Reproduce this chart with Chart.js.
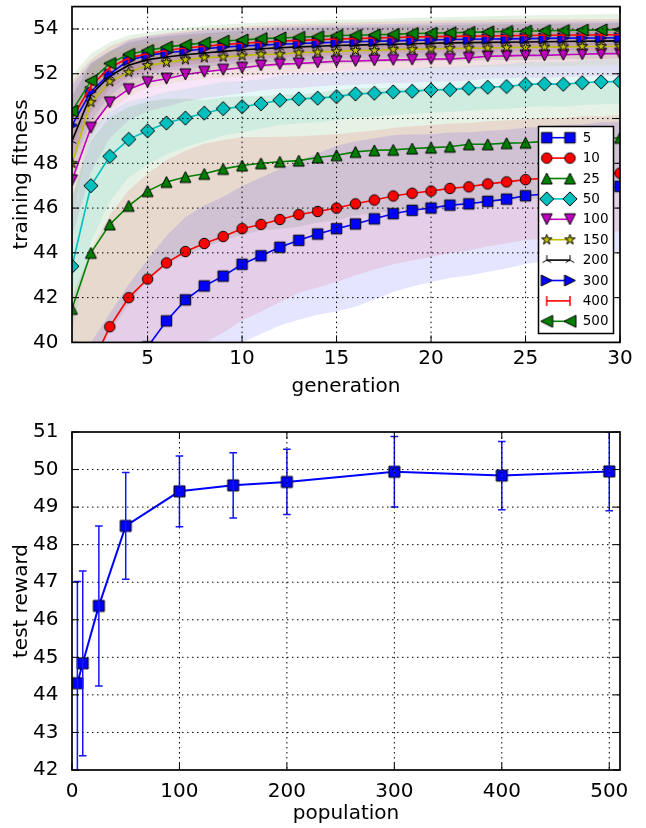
<!DOCTYPE html>
<html><head><meta charset="utf-8">
<script src="https://cdn.jsdelivr.net/npm/chart.js@4.4.1/dist/chart.umd.min.js"></script>
<style>
html,body{margin:0;padding:0;background:#fff;width:646px;height:828px;overflow:hidden;}
.w{position:absolute;left:0;}
</style></head><body>
<div class="w" style="top:0"><canvas id="c1" width="646" height="400"></canvas></div>
<div class="w" style="top:400px"><canvas id="c2" width="646" height="428"></canvas></div>
<script>
// ---------- DATA ----------
const generations = [1,2,3,4,5,6,7,8,9,10,11,12,13,14,15,16,17,18,19,20,21,22,23,24,25,26,27,28,29,30];
const popSizes = ['5','10','25','50','100','150','200','300','400','500'];

const fit5   = [34.0,35.6,37.0,38.5,39.8,40.96,41.9,42.52,42.96,43.49,43.87,44.25,44.56,44.84,45.08,45.29,45.52,45.75,45.9,46.0,46.13,46.19,46.3,46.4,46.55,46.63,46.72,46.8,46.88,46.97];
const fit10  = [36.5,38.9,40.7,42.0,42.83,43.55,44.06,44.42,44.73,45.08,45.27,45.49,45.71,45.85,46.0,46.19,46.36,46.54,46.66,46.76,46.88,46.95,47.08,47.17,47.27,47.33,47.39,47.45,47.5,47.56];
const fit25  = [41.5,44.0,45.27,46.1,46.76,47.17,47.39,47.53,47.75,47.9,48.0,48.07,48.12,48.26,48.36,48.51,48.58,48.6,48.66,48.7,48.74,48.85,48.85,48.9,48.92,48.98,49.02,49.06,49.1,49.14];
const fit50  = [43.4,47.0,48.31,49.07,49.45,49.8,50.02,50.24,50.44,50.53,50.66,50.82,50.88,50.91,50.98,51.1,51.13,51.19,51.22,51.28,51.29,51.35,51.4,51.43,51.52,51.55,51.53,51.6,51.64,51.65];
const fit100 = [47.24,49.59,50.72,51.31,51.63,51.78,51.97,52.09,52.18,52.27,52.37,52.43,52.46,52.51,52.56,52.57,52.6,52.62,52.63,52.66,52.66,52.71,52.78,52.8,52.82,52.82,52.85,52.87,52.9,52.9];
const fit150 = [48.0,50.73,51.65,52.07,52.37,52.51,52.63,52.72,52.75,52.8,52.87,52.87,52.94,52.97,53.0,53.04,53.04,53.09,53.09,53.12,53.13,53.14,53.15,53.17,53.18,53.19,53.2,53.22,53.22,53.23];
const fit200 = [49.0,51.06,51.9,52.38,52.63,52.75,52.85,52.93,53.0,53.07,53.12,53.16,53.2,53.23,53.26,53.28,53.3,53.32,53.34,53.36,53.38,53.39,53.4,53.41,53.42,53.43,53.44,53.45,53.46,53.47];
const fit300 = [49.7,51.2,52.0,52.6,52.82,52.94,53.02,53.12,53.19,53.24,53.28,53.32,53.35,53.38,53.41,53.43,53.45,53.47,53.49,53.51,53.53,53.54,53.55,53.56,53.57,53.58,53.59,53.6,53.6,53.61];
const fit400 = [50.0,51.45,52.28,52.7,52.9,53.04,53.15,53.23,53.3,53.36,53.41,53.45,53.49,53.52,53.55,53.57,53.6,53.62,53.64,53.66,53.67,53.68,53.69,53.7,53.71,53.72,53.72,53.73,53.73,53.74];
const fit500 = [50.33,51.69,52.46,52.87,53.04,53.19,53.29,53.38,53.46,53.51,53.57,53.6,53.63,53.66,53.71,53.72,53.74,53.76,53.8,53.81,53.83,53.85,53.87,53.89,53.9,53.92,53.93,53.95,53.96,53.97];

const sd5   = [4.5,4.4,4.3,4.1,3.9,3.8,3.7,3.6,3.55,3.5,3.5,3.5,3.55,3.6,3.7,3.7,3.6,3.5,3.4,3.3,3.25,3.2,3.15,3.1,3.05,3.0,3.0,2.95,2.95,2.9];
const sd10  = [5.5,5.2,5.0,4.8,4.7,4.6,4.5,4.45,4.3,4.1,3.9,3.7,3.5,3.4,3.3,3.2,3.1,3.05,3.0,2.95,2.9,2.85,2.8,2.75,2.7,2.7,2.65,2.65,2.6,2.6];
const sd25  = [5.0,5.0,4.8,4.4,4.0,3.7,3.5,3.3,3.2,3.1,3.0,3.0,2.95,2.9,2.9,2.85,2.8,2.75,2.7,2.7,2.65,2.6,2.6,2.55,2.55,2.5,2.5,2.5,2.5,2.5];
const sd50  = [3.0,2.5,2.0,1.7,1.5,1.4,1.3,1.25,1.2,1.15,1.1,1.1,1.1,1.08,1.06,1.05,1.04,1.03,1.02,1.01,1.0,1.0,1.0,1.0,1.0,1.0,1.0,1.0,1.0,1.0];
const sd100 = [2.5,2.0,1.6,1.4,1.3,1.25,1.2,1.18,1.16,1.14,1.12,1.1,1.1,1.08,1.07,1.06,1.05,1.04,1.03,1.02,1.02,1.01,1.0,1.0,1.0,1.0,1.0,1.0,1.0,1.0];
const sd150 = [2.2,1.6,1.3,1.1,1.0,0.98,0.96,0.94,0.93,0.92,0.91,0.9,0.9,0.89,0.88,0.88,0.87,0.87,0.86,0.86,0.86,0.85,0.85,0.85,0.85,0.85,0.85,0.85,0.85,0.85];
const sd200 = [2.0,1.4,1.1,1.0,0.95,0.92,0.9,0.88,0.86,0.85,0.84,0.83,0.82,0.82,0.81,0.81,0.8,0.8,0.8,0.8,0.8,0.8,0.8,0.8,0.8,0.8,0.8,0.8,0.8,0.8];
const sd300 = [1.8,1.3,1.0,0.9,0.85,0.83,0.82,0.81,0.8,0.79,0.78,0.78,0.77,0.77,0.76,0.76,0.76,0.75,0.75,0.75,0.75,0.75,0.75,0.75,0.75,0.75,0.75,0.75,0.75,0.75];
const sd400 = [1.7,1.2,0.95,0.85,0.8,0.78,0.77,0.76,0.75,0.75,0.74,0.74,0.73,0.73,0.73,0.72,0.72,0.72,0.72,0.72,0.72,0.72,0.72,0.72,0.72,0.72,0.72,0.72,0.72,0.72];
const sd500 = [1.6,1.2,0.95,0.85,0.8,0.78,0.76,0.75,0.74,0.73,0.72,0.72,0.71,0.71,0.7,0.7,0.7,0.7,0.7,0.7,0.7,0.7,0.7,0.7,0.7,0.7,0.7,0.7,0.7,0.7];

const topXTicks = [5,10,15,20,25,30];
const topYTicks = [40,42,44,46,48,50,52,54];

const population = [5,10,25,50,100,150,200,300,400,500];
const testReward = [44.31,44.84,46.37,48.5,49.42,49.58,49.67,49.94,49.84,49.95];
const testErr    = [2.71,2.46,2.13,1.42,0.94,0.87,0.87,0.94,0.91,1.05];
const botXTicks = [0,100,200,300,400,500];
const botYTicks = [42,43,44,45,46,47,48,49,50,51];

// ---------- STYLE ----------
const FONT = 'DejaVu Sans';
function makeMarker(kind, fill, size){
  const pad = 3, s = Math.ceil(size + 2*pad);
  const c = document.createElement('canvas'); c.width = s; c.height = s;
  const g = c.getContext('2d'); const m = s/2, h = size/2;
  g.lineWidth = 1; g.strokeStyle = '#000'; g.fillStyle = fill; g.lineJoin = 'miter';
  g.beginPath();
  let doFill = true;
  if (kind === 'square') g.rect(m-h, m-h, size, size);
  else if (kind === 'circle') g.arc(m, m, h, 0, Math.PI*2);
  else if (kind === 'up') { g.moveTo(m, m-h); g.lineTo(m+h, m+h); g.lineTo(m-h, m+h); g.closePath(); }
  else if (kind === 'down') { g.moveTo(m, m+h); g.lineTo(m+h, m-h); g.lineTo(m-h, m-h); g.closePath(); }
  else if (kind === 'left') { g.moveTo(m-h, m); g.lineTo(m+h, m-h); g.lineTo(m+h, m+h); g.closePath(); }
  else if (kind === 'right') { g.moveTo(m+h, m); g.lineTo(m-h, m-h); g.lineTo(m-h, m+h); g.closePath(); }
  else if (kind === 'diamond') { const d = h*1.414; g.moveTo(m, m-d); g.lineTo(m+d, m); g.lineTo(m, m+d); g.lineTo(m-d, m); g.closePath(); }
  else if (kind === 'star') {
    const ri = h*0.382;
    for (let i=0;i<10;i++){ const r = i%2? ri : h; const a = -Math.PI/2 + i*Math.PI/5;
      const px = m + r*Math.cos(a), py = m + r*Math.sin(a); if(i===0) g.moveTo(px,py); else g.lineTo(px,py); }
    g.closePath();
  }
  else if (kind === 'tri') { doFill = false; g.moveTo(m, m); g.lineTo(m, m-h); g.moveTo(m, m); g.lineTo(m-h*0.87, m+h*0.5); g.moveTo(m,m); g.lineTo(m+h*0.87, m+h*0.5); }
  else if (kind === 'vline') { doFill = false; g.strokeStyle = fill; g.lineWidth = 1.5; g.moveTo(m, m-h); g.lineTo(m, m+h); }
  if (doFill) g.fill();
  g.stroke();
  return c;
}
const seriesStyle = [
  {color:[0,0,255],   marker:'square',  size:10.5},
  {color:[255,0,0],   marker:'circle',  size:10.5},
  {color:[0,128,0],   marker:'up',      size:11},
  {color:[0,191,191], marker:'diamond', size:10},
  {color:[191,0,191], marker:'down',    size:11},
  {color:[191,191,0], marker:'star',    size:11},
  {color:[0,0,0],     marker:'tri',     size:10},
  {color:[0,0,255],   marker:'right',   size:11},
  {color:[255,0,0],   marker:'vline',   size:10},
  {color:[0,128,0],   marker:'left',    size:12}
];
const means = [fit5,fit10,fit25,fit50,fit100,fit150,fit200,fit300,fit400,fit500];
const sds   = [sd5,sd10,sd25,sd50,sd100,sd150,sd200,sd300,sd400,sd500];
const rgb = (c,a) => a===undefined ? `rgb(${c[0]},${c[1]},${c[2]})` : `rgba(${c[0]},${c[1]},${c[2]},${a})`;
const markerImgs = seriesStyle.map(s => makeMarker(s.marker, rgb(s.color), s.size));

// ---------- PLUGINS ----------
function decoPlugin(){
  return {
    id: 'deco',
    afterDatasetsDraw(chart){
      const {ctx, chartArea: a} = chart; const xs = chart.scales.x, ys = chart.scales.y;
      ctx.save();
      ctx.strokeStyle = '#000'; ctx.lineWidth = 1; ctx.setLineDash([1.5, 3.5]);
      xs.ticks.forEach(t => { const p = xs.getPixelForValue(t.value);
        if (p > a.left + 2 && p < a.right - 2) { ctx.beginPath(); ctx.moveTo(p, a.top); ctx.lineTo(p, a.bottom); ctx.stroke(); } });
      ys.ticks.forEach(t => { const p = ys.getPixelForValue(t.value);
        if (p > a.top + 2 && p < a.bottom - 2) { ctx.beginPath(); ctx.moveTo(a.left, p); ctx.lineTo(a.right, p); ctx.stroke(); } });
      ctx.setLineDash([]);
      const L = 7;
      xs.ticks.forEach(t => { const p = xs.getPixelForValue(t.value);
        ctx.beginPath(); ctx.moveTo(p, a.bottom); ctx.lineTo(p, a.bottom - L); ctx.moveTo(p, a.top); ctx.lineTo(p, a.top + L); ctx.stroke(); });
      ys.ticks.forEach(t => { const p = ys.getPixelForValue(t.value);
        ctx.beginPath(); ctx.moveTo(a.left, p); ctx.lineTo(a.left + L, p); ctx.moveTo(a.right, p); ctx.lineTo(a.right - L, p); ctx.stroke(); });
      ctx.lineWidth = 1.7;
      ctx.strokeRect(a.left, a.top, a.right - a.left, a.bottom - a.top);
      ctx.restore();
    }
  };
}
const legendPlugin = {
  id: 'mplLegend',
  afterDatasetsDraw(chart){
    const ctx = chart.ctx;
    const bx = 538.5, by = 126.5, bw = 75, bh = 207;
    ctx.save();
    ctx.fillStyle = '#fff'; ctx.fillRect(bx, by, bw, bh);
    ctx.strokeStyle = '#000'; ctx.lineWidth = 1.5; ctx.strokeRect(bx, by, bw, bh);
    ctx.font = '13.5px "' + FONT + '"'; ctx.textBaseline = 'middle'; ctx.textAlign = 'left';
    popSizes.forEach((lab, i) => {
      const y = 137.7 + i*20.4, x0 = 546.7, x1 = 570;
      const st = seriesStyle[i];
      ctx.strokeStyle = rgb(st.color); ctx.lineWidth = 1.6;
      ctx.beginPath(); ctx.moveTo(x0, y); ctx.lineTo(x1, y); ctx.stroke();
      const im = markerImgs[i];
      ctx.drawImage(im, x0 - im.width/2, y - im.height/2);
      ctx.drawImage(im, x1 - im.width/2, y - im.height/2);
      ctx.fillStyle = '#000'; ctx.fillText(lab, 582.7, y + 0.5);
    });
    ctx.restore();
  }
};
const errPlugin = {
  id: 'errBars',
  afterDatasetsDraw(chart){
    const {ctx, chartArea: a} = chart; const xs = chart.scales.x, ys = chart.scales.y;
    ctx.save();
    ctx.beginPath(); ctx.rect(a.left, a.top, a.right - a.left, a.bottom - a.top); ctx.clip();
    ctx.strokeStyle = 'rgb(20,20,255)'; ctx.lineWidth = 1.5;
    population.forEach((p, i) => {
      const x = xs.getPixelForValue(p);
      const yl = ys.getPixelForValue(testReward[i] - testErr[i]);
      const yh = ys.getPixelForValue(testReward[i] + testErr[i]);
      ctx.beginPath(); ctx.moveTo(x, yl); ctx.lineTo(x, yh);
      ctx.moveTo(x - 3.8, yl); ctx.lineTo(x + 3.8, yl);
      ctx.moveTo(x - 3.8, yh); ctx.lineTo(x + 3.8, yh); ctx.stroke();
    });
    ctx.restore();
  }
};

function axisCfg(min, max, tickVals, title, isX, size, tickPad, titlePad){
  return {
    type: 'linear', min, max,
    afterBuildTicks: s => { s.ticks = tickVals.map(v => ({value: v})); },
    afterFit: s => { if (isX) s.height = size; else s.width = size;
      s.paddingTop = 0; s.paddingBottom = 0; s.paddingLeft = 0; s.paddingRight = 0; },
    grid: {display: false}, border: {display: false},
    ticks: {color: '#000', font: {family: FONT, size: 20}, padding: tickPad, maxRotation: 0, autoSkip: false,
            callback: v => String(v)},
    title: {display: true, text: title, color: '#000', font: {family: FONT, size: 20},
            padding: isX ? {top: 0, bottom: titlePad} : {top: titlePad, bottom: 0}}
  };
}

// ---------- TOP CHART ----------
const topDatasets = [];
for (let i = means.length - 1; i >= 0; i--) {
  const st = seriesStyle[i];
  topDatasets.push({
    label: popSizes[i],
    data: generations.map((g, k) => ({x: g, y: means[i][k]})),
    borderColor: rgb(st.color), borderWidth: 1.6, tension: 0, fill: false,
    pointStyle: markerImgs[i], pointRadius: 5, pointHoverRadius: 5
  });
}
for (let i = 0; i < means.length; i++) {
  const st = seriesStyle[i];
  topDatasets.push({
    label: 'band-up-' + popSizes[i],
    data: generations.map((g, k) => ({x: g, y: means[i][k] + sds[i][k]})),
    borderColor: 'rgba(0,0,0,0)', borderWidth: 1, pointRadius: 0, tension: 0,
    backgroundColor: rgb(st.color, 0.1), fill: '+1'
  });
  topDatasets.push({
    label: 'band-lo-' + popSizes[i],
    data: generations.map((g, k) => ({x: g, y: means[i][k] - sds[i][k]})),
    borderColor: 'rgba(0,0,0,0)', borderWidth: 1, pointRadius: 0, tension: 0, fill: false
  });
}

new Chart(document.getElementById('c1'), {
  type: 'line',
  data: {datasets: topDatasets},
  options: {
    responsive: false, animation: false, devicePixelRatio: 1,
    layout: {padding: {top: 3, right: 26, left: 0, bottom: 0}},
    plugins: {legend: {display: false}, tooltip: {enabled: false}, filler: {drawTime: 'beforeDatasetsDraw'}},
    scales: {
      x: axisCfg(1, 30, topXTicks, 'generation', true, 57.6, -4, 1),
      y: axisCfg(40, 55, topYTicks, 'training fitness', false, 72, 5.5, 10)
    }
  },
  plugins: [decoPlugin(), legendPlugin]
});

// ---------- BOTTOM CHART ----------
new Chart(document.getElementById('c2'), {
  type: 'line',
  data: {datasets: [{
    label: 'test reward',
    data: population.map((p, i) => ({x: p, y: testReward[i]})),
    borderColor: 'rgb(0,0,255)', borderWidth: 2, tension: 0, fill: false,
    pointStyle: makeMarker('square', 'rgb(0,0,255)', 11), pointRadius: 5
  }]},
  options: {
    responsive: false, animation: false, devicePixelRatio: 1,
    layout: {padding: {top: 32, right: 26, left: 0, bottom: 0}},
    plugins: {legend: {display: false}, tooltip: {enabled: false}},
    scales: {
      x: axisCfg(0, 510, botXTicks, 'population', true, 58, 2, 2),
      y: axisCfg(42, 51, botYTicks, 'test reward', false, 72, 5.5, 10)
    }
  },
  plugins: [errPlugin, decoPlugin()]
});
</script>
</body></html>
